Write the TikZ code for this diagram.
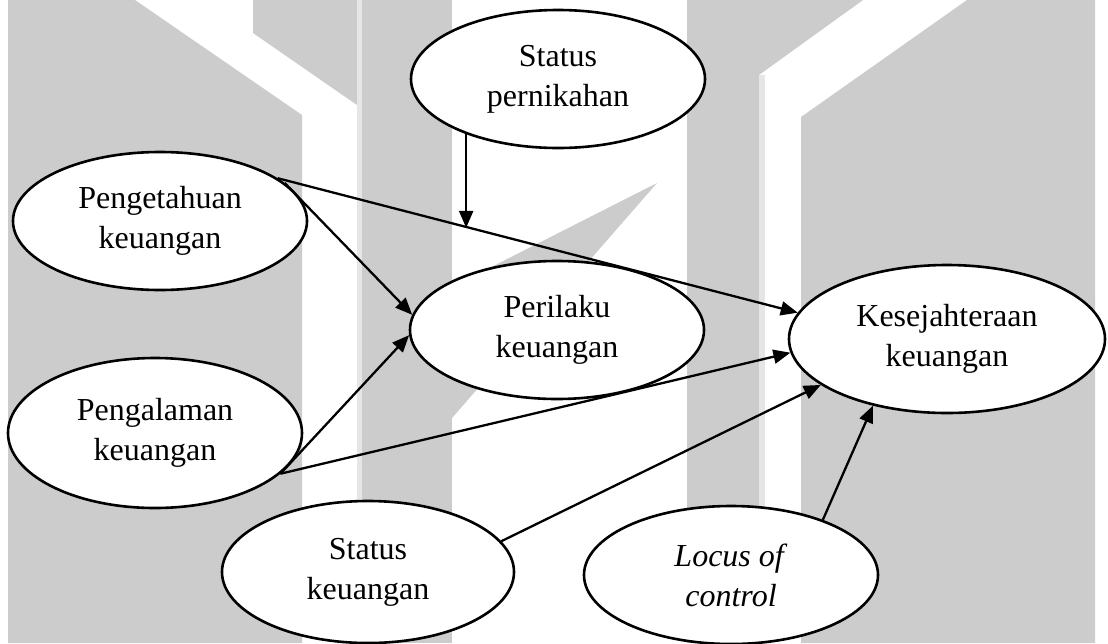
\documentclass[tikz,border=0pt]{standalone}
\usepackage{fontspec}
\setmainfont{Liberation Serif}
\usetikzlibrary{shapes.geometric,arrows.meta}
\definecolor{wmgray}{HTML}{CCCCCC}
\definecolor{wmlight}{HTML}{E6E6E6}
\begin{document}
\begin{tikzpicture}[x=1pt,y=-1pt,
  var/.style={ellipse, draw, line width=2.6pt, fill=white, minimum width=294pt,
    minimum height=138pt, inner sep=0pt, align=center,
    font=\fontsize{32}{40}\selectfont},
  conn/.style={line width=2.3pt, -{Triangle[length=17pt,width=14pt]}}]
\fill[white] (0,0) rectangle (1108,643);
\useasboundingbox (0,0) rectangle (1108,643);
% watermark
\fill[wmgray] (8,0) -- (135,0) -- (302,115) -- (302,643) -- (8,643) -- cycle;
\fill[wmgray] (253,0) -- (357,0) -- (357,105) -- (253,33) -- cycle;
\fill[wmlight] (357,0) rectangle (362,643);
\fill[wmgray] (362,0) rectangle (452,643);
\fill[wmgray] (657,183) -- (452,287) -- (452,418) -- cycle;
\fill[wmgray] (687,0) rectangle (759,643);
\fill[wmgray] (759,0) -- (863,0) -- (759,75) -- cycle;
\fill[wmlight] (759,75) rectangle (765,643);
\fill[wmgray] (801,117) -- (967,0) -- (1095,0) -- (1095,643) -- (801,643) -- cycle;
% nodes
\node[var] (stpn) at (558,79) {Status\\pernikahan};
\node[var] (peng) at (160,221) {Pengetahuan\\keuangan};
\node[var, minimum height=150pt] (pgal) at (155,433) {Pengalaman\\keuangan};
\node[var] (peri) at (557,330) {Perilaku\\keuangan};
\node[var, minimum width=316pt, minimum height=148pt] (kes) at (947,339) {Kesejahteraan\\keuangan};
\node[var, minimum width=292pt, minimum height=142pt] (stku) at (368,572) {Status\\keuangan};
\node[var] (loc) at (731,575) {\textit{Locus of}\\\textit{control}};
% connectors
\path (peng.20) -- coordinate[pos=0.369] (mid) (kes.170);
\draw[conn] (peng.20) -- (kes.170);
\draw[conn] (peng.17) -- (peri.174);
\draw[conn] (pgal.342) -- (peri.182);
\draw[conn] (pgal.342) -- (kes.185);
\draw[conn] (stku.13) -- (kes.200);
\draw[conn] (loc.31) -- (kes.222);
\draw[conn] (stpn.211) -- (stpn.211 |- mid);
\end{tikzpicture}
\end{document}
